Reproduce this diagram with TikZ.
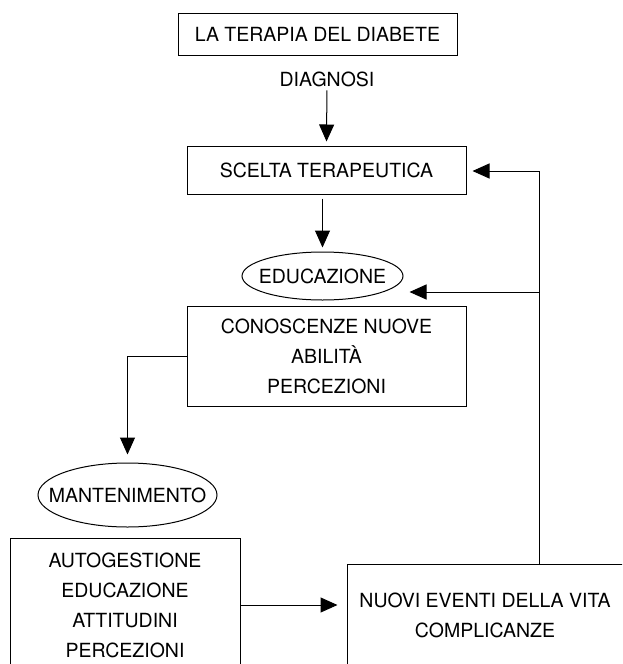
\documentclass[tikz,border=0pt]{standalone}
\usepackage{fontspec}
\setmainfont{TeX Gyre Heros}
\usetikzlibrary{arrows.meta,shapes.geometric}

\tikzset{
  box/.style={draw, rectangle, align=center, inner sep=0pt},
  oval/.style={draw, ellipse, inner sep=0pt},
  arr/.style={-{Triangle[length=17pt,width=15pt]}},
}
% text that may run over the edge of its oval
\newcommand{\wide}[1]{\makebox[0pt]{#1}}

\begin{document}
\begin{tikzpicture}[x=1pt,y=-1pt,line width=1pt,font=\fontsize{19.5}{30}\selectfont]
	\useasboundingbox (0,0) rectangle (622,664);
	\clip (0,0) rectangle (622,664);
	
	\node[box, minimum width=279pt, minimum height=42pt] (terapia) at (317.5,34) {LA TERAPIA DEL DIABETE};
	\node (diagnosi) at (327,79) {DIAGNOSI};
	\node[box, minimum width=279pt, minimum height=48pt] (scelta) at (326.5,170) {SCELTA TERAPEUTICA};
	\node[oval, minimum width=161pt, minimum height=48pt] (educ) at (322.5,276) {\wide{EDUCAZIONE}};
	\node[box, minimum width=279pt, minimum height=100pt] (conosc) at (326.5,356) {CONOSCENZE NUOVE\\ABILITÀ\\PERCEZIONI};
	\node[oval, minimum width=179pt, minimum height=64pt] (mant) at (127.5,495) {\wide{MANTENIMENTO}};
	\node[box, minimum width=230pt, minimum height=134pt] (autog) at (125,605) {AUTOGESTIONE\\EDUCAZIONE\\ATTITUDINI\\PERCEZIONI};
	\node[box, minimum width=276pt, minimum height=102pt] (nuovi) at (485,615) {NUOVI EVENTI DELLA VITA\\COMPLICANZE};
	
	\coordinate (up) at (539,171);
	\coordinate (branch) at (539,292);
	
	\draw[arr, shorten >=4pt] (diagnosi) -- (scelta.north);
	\draw[arr, shorten <=4pt, shorten >=4pt] (scelta.south -| educ.north) -- (educ.north);
	\draw[arr, shorten >=8pt] (conosc.west) -| (mant.north);
	\draw[arr, shorten >=9pt] (autog.east) -- (nuovi.west |- autog.east);
	\draw[arr, shorten >=6pt] (up |- nuovi.north) -- (up) -- (scelta.east |- up);
	\draw[arr, shorten >=6pt] (branch) -- (educ.east |- branch);
\end{tikzpicture}
\end{document}
